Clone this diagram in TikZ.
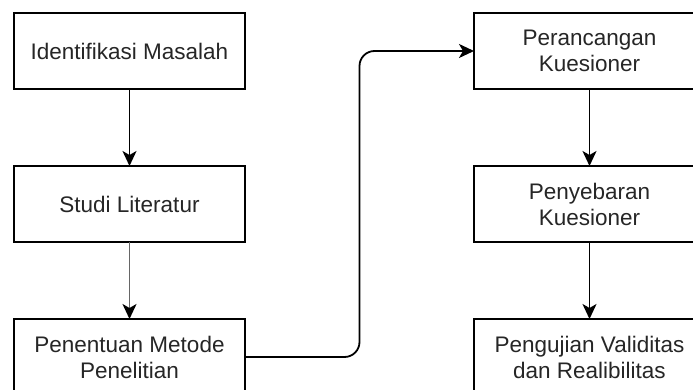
\documentclass[tikz,border=0pt]{standalone}
\usepackage{fontspec}
\setmainfont{Liberation Sans}
\usetikzlibrary{arrows.meta}
\begin{document}
\begin{tikzpicture}[x=1pt,y=-1pt,
  stepbox/.style={draw=black, line width=1.8pt, fill=white,
    minimum width=231pt, minimum height=76pt, inner sep=0pt, outer sep=0pt,
    align=center, font=\fontsize{22.5}{26}\selectfont, text=black!85},
  flow/.style={draw=black, line width=1.8pt,
    -{Stealth[length=15pt,width=14pt,inset=4pt]}},
  flowgray/.style={flow, draw=black!60, -{Stealth[length=15pt,width=14pt,inset=4pt,black]}}]
\useasboundingbox (0,0) rectangle (693,390);
% left column
\node[stepbox] (idm) at (129.5,51) {Identifikasi Masalah};
\node[stepbox] (stl) at (129.5,204) {Studi Literatur};
\node[stepbox] (pmp) at (129.5,357) {Penentuan Metode\\Penelitian};
% right column
\node[stepbox] (prk) at (589.5,51) {Perancangan\\Kuesioner};
\node[stepbox] (pyk) at (589.5,204) {Penyebaran\\Kuesioner};
\node[stepbox] (puv) at (589.5,357) {Pengujian Validitas\\dan Realibilitas};
% connectors
\draw[flow] (idm) -- (stl);
\draw[flowgray] (stl) -- (pmp);
\draw[flow, rounded corners=15pt] (pmp.east) -- ++(114.5,0) |- (prk.west);
\draw[flow] (prk) -- (pyk);
\draw[flow] (pyk) -- (puv);
\end{tikzpicture}
\end{document}
